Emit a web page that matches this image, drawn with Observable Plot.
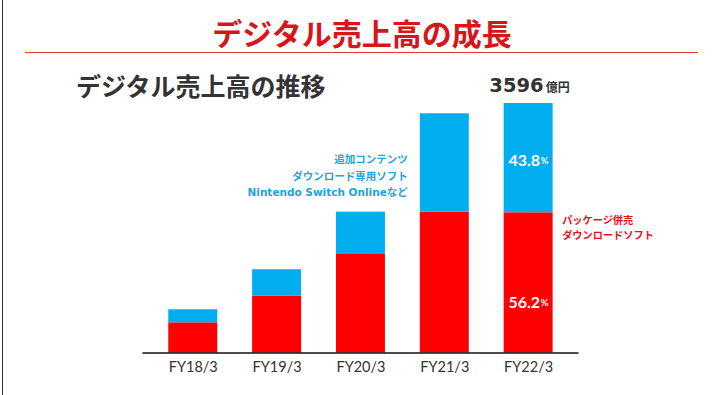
<!DOCTYPE html>
<html>
<head>
<meta charset="utf-8">
<script src="https://cdn.jsdelivr.net/npm/d3@7"></script>
<script src="https://cdn.jsdelivr.net/npm/@observablehq/plot@0.6"></script>
<style>
  html, body { margin: 0; padding: 0; background: #fff; }
  #wrap { position: relative; width: 716px; height: 395px; overflow: hidden; background: #fff; }
  #wrap svg { position: absolute; left: 0; top: 0; }
  .ov { position: absolute; white-space: nowrap; font-family: "Noto Sans CJK JP", sans-serif; font-weight: bold; }
  #title { left: 212px; width: 300px; top: 17px; font-size: 30px; line-height: 30px; text-align: center; color: #d7151b; }
  #subtitle { left: 76px; top: 73px; font-size: 25px; line-height: 25px; color: #333; }
  #rule { position: absolute; left: 25px; width: 673px; top: 52px; height: 1.3px; background: #e33a36; }
  #border { position: absolute; left: 2px; top: 0; width: 1.2px; height: 395px; background: #333; }
</style>
</head>
<body>
<div id="wrap">
  <div id="border"></div>
  <div class="ov" id="title">デジタル売上高の成長</div>
  <div id="rule"></div>
  <div class="ov" id="subtitle">デジタル売上高の推移</div>
</div>
<script>
// Data (億円)
const years = ["FY18/3", "FY19/3", "FY20/3", "FY21/3", "FY22/3"];
const packageDL = [435, 820, 1430, 2030, 2021];   // パッケージ併売ダウンロードソフト
const addOn = [188, 380, 600, 1418, 1575];        // 追加コンテンツ・DL専用ソフト・NSOなど
const totals = years.map((y, i) => packageDL[i] + addOn[i]);
const totalLabel = "3596";
const totalUnit = "億円";
const sharePackage = "56.2";
const shareAddOn = "43.8";
const blueLegend = "追加コンテンツ\nダウンロード専用ソフト\nNintendo Switch Onlineなど";
const redLegend = "パッケージ併売\nダウンロードソフト";

const RED = "#fe0000";
const BLUE = "#00adee";

const rows = years.map((y, i) => ({year: y, red: packageDL[i], total: totals[i]}));
const last = rows[rows.length - 1];
const prev = rows[rows.length - 2];

const chart = Plot.plot({
  width: 716,
  height: 395,
  marginTop: 103,
  marginBottom: 42.5,
  marginLeft: 133.4,
  marginRight: 128.5,
  style: {fontFamily: "Lato, 'Noto Sans CJK JP', sans-serif", background: "transparent", overflow: "visible"},
  x: {domain: years, padding: 0.416, round: false, label: null},
  y: {domain: [0, 3596], axis: null},
  marks: [
    Plot.barY(rows, {x: "year", y1: 0, y2: "red", fill: RED}),
    Plot.barY(rows, {x: "year", y1: "red", y2: "total", fill: BLUE}),
    Plot.ruleY([0], {stroke: "#111", strokeWidth: 1.6, insetLeft: 9, insetRight: 9}),
    Plot.axisX({tickSize: 0, tickPadding: 9, fontSize: 14.5, fill: "#333", label: null}),
    // total label
    Plot.text([last], {x: "year", y: "total", text: () => totalLabel, textAnchor: "end", lineAnchor: "bottom",
      dx: 15, dy: -12, fontSize: 19.5, fontWeight: "bold", fill: "#333", fontFamily: "DejaVu Sans"}),
    Plot.text([last], {x: "year", y: "total", text: () => totalUnit, textAnchor: "start", lineAnchor: "bottom",
      dx: 17, dy: -12, fontSize: 12, fontWeight: "bold", fill: "#333", fontFamily: "Noto Sans CJK JP"}),
    // share labels
    Plot.text([last], {x: "year", y: d => (d.red + d.total) / 2, text: () => shareAddOn, textAnchor: "end",
      lineAnchor: "middle", dx: 11.5, dy: 3, fontSize: 16, fontWeight: "bold", fill: "#fff"}),
    Plot.text([last], {x: "year", y: d => (d.red + d.total) / 2, text: () => "%", textAnchor: "start",
      lineAnchor: "middle", dx: 12, dy: 3, fontSize: 9.5, fontWeight: "bold", fill: "#fff"}),
    Plot.text([last], {x: "year", y: d => d.red / 2, text: () => sharePackage, textAnchor: "end",
      lineAnchor: "middle", dx: 11.5, dy: 20, fontSize: 16, fontWeight: "bold", fill: "#fff"}),
    Plot.text([last], {x: "year", y: d => d.red / 2, text: () => "%", textAnchor: "start",
      lineAnchor: "middle", dx: 12, dy: 20, fontSize: 9.5, fontWeight: "bold", fill: "#fff"}),
    // legends
    Plot.text([prev], {x: "year", y: "red", text: () => blueLegend, textAnchor: "end", lineAnchor: "bottom",
      lineHeight: 1.58, dx: -37, dy: -16, fontSize: 10.5, fontWeight: "bold", fill: "#1ea3dc",
      fontFamily: "'DejaVu Sans', 'Noto Sans CJK JP', sans-serif"}),
    Plot.text([last], {x: "year", y: "red", text: () => redLegend, textAnchor: "start", lineAnchor: "top",
      lineHeight: 1.47, dx: 33.5, dy: 1, fontSize: 10.2, fontWeight: "bold", fill: "#e8101a",
      fontFamily: "'Noto Sans CJK JP', sans-serif"})
  ]
});
document.getElementById("wrap").appendChild(chart);
</script>
</body>
</html>
